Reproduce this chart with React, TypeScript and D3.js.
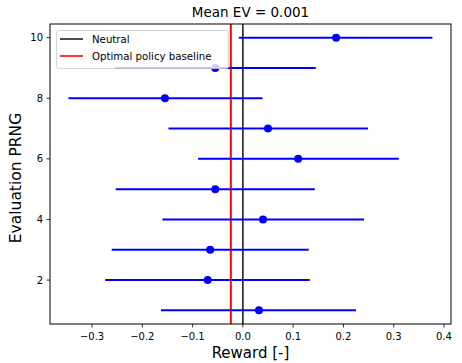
import React from "react";
import * as d3 from "d3";

// evaluation PRNG seeds and the mean reward with its interval
const seeds = [1, 2, 3, 4, 5, 6, 7, 8, 9, 10];
const means = [0.032, -0.07, -0.065, 0.04, -0.055, 0.11, 0.05, -0.155, -0.055, 0.1855];
const lower = [-0.163, -0.274, -0.261, -0.16, -0.253, -0.089, -0.148, -0.347, -0.254, -0.008];
const upper = [0.225, 0.133, 0.131, 0.241, 0.143, 0.31, 0.249, 0.039, 0.145, 0.377];
const neutral = 0;
const baseline = -0.024;
const xTicks = [-0.3, -0.2, -0.1, 0.0, 0.1, 0.2, 0.3, 0.4];
const yTicks = [2, 4, 6, 8, 10];
const title = "Mean EV = 0.001";

const W = 462;
const H = 363;
const m = { left: 50, right: 11, top: 24, bottom: 39 };

export default function App() {
  const x = d3.scaleLinear().domain([-0.3837, 0.414]).range([m.left, W - m.right]);
  const y = d3.scaleLinear().domain([0.55, 10.45]).range([H - m.bottom, m.top]);
  const font = "DejaVu Sans, sans-serif";
  const x0 = m.left, x1 = W - m.right, y0 = m.top, y1 = H - m.bottom;

  return (
    <svg width={W} height={H} style={{ position: "absolute", left: 0, top: 0 }} fontFamily={font}>
      <rect width={W} height={H} fill="#fff" />
      <text x={(x0 + x1) / 2} y={17} textAnchor="middle" fontSize={13.5}>{title}</text>

      {/* reference lines */}
      <line x1={x(neutral)} x2={x(neutral)} y1={y0} y2={y1} stroke="#000" strokeWidth={1.4} />
      <line x1={x(baseline)} x2={x(baseline)} y1={y0} y2={y1} stroke="#ff0000" strokeWidth={2} />

      {/* error bars */}
      {seeds.map((s, i) => (
        <g key={s}>
          <line x1={x(lower[i])} x2={x(upper[i])} y1={y(s)} y2={y(s)} stroke="#0000ff" strokeWidth={2} />
          <circle cx={x(means[i])} cy={y(s)} r={4} fill="#0000ff" />
        </g>
      ))}

      {/* frame */}
      <rect x={x0} y={y0} width={x1 - x0} height={y1 - y0} fill="none" stroke="#000" strokeWidth={1} />

      {/* x axis */}
      {xTicks.map((t) => (
        <g key={t}>
          <line x1={x(t)} x2={x(t)} y1={y1} y2={y1 + 3.5} stroke="#000" strokeWidth={0.8} />
          <text x={x(t)} y={y1 + 16} textAnchor="middle" fontSize={10}>
            {t < 0 ? "\u2212" + Math.abs(t).toFixed(1) : t.toFixed(1)}
          </text>
        </g>
      ))}
      <text x={(x0 + x1) / 2} y={358} textAnchor="middle" fontSize={15}>Reward [-]</text>

      {/* y axis */}
      {yTicks.map((t) => (
        <g key={t}>
          <line x1={x0 - 3.5} x2={x0} y1={y(t)} y2={y(t)} stroke="#000" strokeWidth={0.8} />
          <text x={x0 - 7} y={y(t) + 3.6} textAnchor="end" fontSize={10}>{t}</text>
        </g>
      ))}
      <text transform={`translate(21,178) rotate(-90)`} textAnchor="middle" fontSize={15.5}>
        Evaluation PRNG
      </text>

      {/* legend */}
      <g>
        <rect x={56.5} y={30.5} width={172} height={38} rx={2} fill="#fff" fillOpacity={0.8} stroke="#ccc" strokeWidth={0.8} />
        <line x1={60} x2={83} y1={39} y2={39} stroke="#000" strokeWidth={1.4} />
        <text x={92} y={43} fontSize={10.2}>Neutral</text>
        <line x1={60} x2={83} y1={56} y2={56} stroke="#ff0000" strokeWidth={1.6} />
        <text x={92} y={60} fontSize={10.2}>Optimal policy baseline</text>
      </g>
    </svg>
  );
}
